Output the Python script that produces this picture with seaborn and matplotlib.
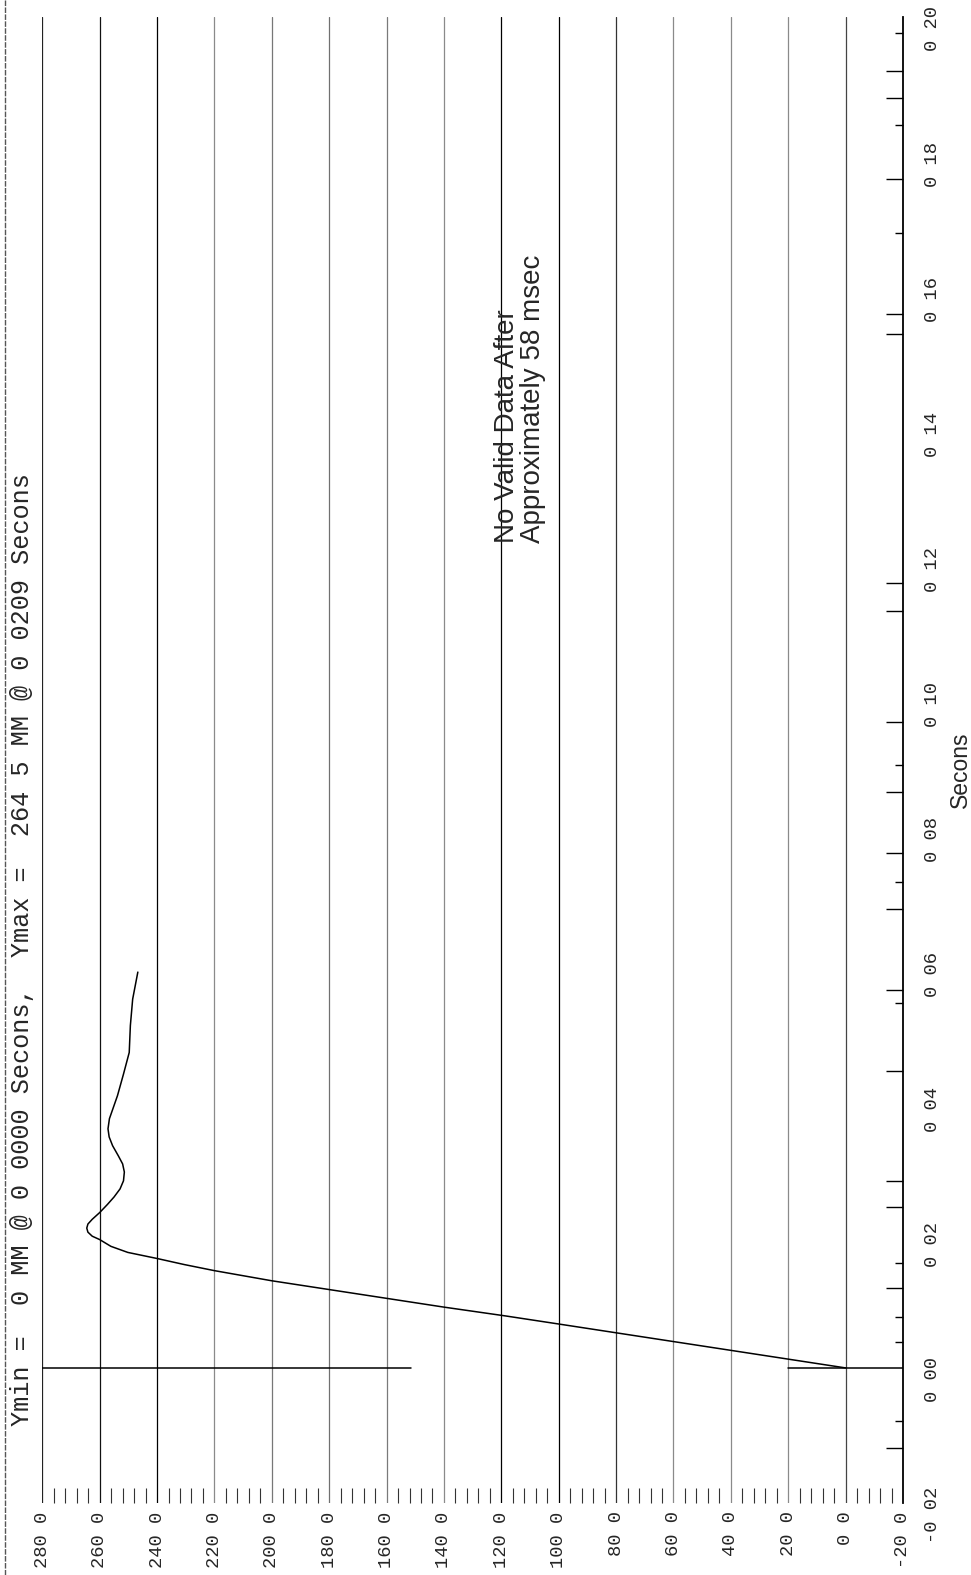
import matplotlib
matplotlib.use("Agg")
import matplotlib.pyplot as plt
import matplotlib.transforms as mtransforms
from matplotlib.lines import Line2D
import seaborn as sns

# ---------------- data ----------------
t_sec = [0.0000, 0.0013, 0.0026, 0.0039, 0.0052, 0.0065, 0.0077, 0.0090, 0.0103,
         0.0116, 0.0129, 0.0144, 0.0153, 0.0162, 0.0171, 0.0180, 0.0190, 0.0195,
         0.0201, 0.0207, 0.0213, 0.0220, 0.0230, 0.0242, 0.0253, 0.0265, 0.0277,
         0.0290, 0.0302, 0.0314, 0.0329, 0.0342, 0.0354, 0.0369, 0.0386, 0.0403,
         0.0435, 0.0467, 0.0507, 0.0546, 0.0586]
disp_mm = [0.0, 20.0, 40.0, 60.0, 80.0, 100.0, 118.6, 140.0, 160.0,
           180.0, 200.0, 220.0, 230.5, 240.0, 250.2, 256.1, 260.0, 262.6,
           264.1, 264.5, 264.1, 262.6, 260.0, 257.3, 255.0, 252.9, 251.7,
           251.4, 252.0, 253.5, 255.5, 256.7, 257.1, 256.6, 255.2, 253.8,
           251.7, 249.7, 249.3, 248.5, 246.7]

mm_grid = [280, 260, 240, 220, 200, 180, 160, 140, 120, 100, 80, 60, 40, 20, 0]
mm_ticks = [280, 260, 240, 220, 200, 180, 160, 140, 120, 100, 80, 60, 40, 20, 0, -20]
mm_ticklabels = ["280 0", "260 0", "240 0", "220 0", "200 0", "180 0", "160 0",
                 "140 0", "120 0", "100 0", "80 0", "60 0", "40 0", "20 0",
                 "0 0", "-20 0"]
mm_minor = list(range(-20, 281, 4))

time_ticks = [-0.02, 0.00, 0.02, 0.04, 0.06, 0.08, 0.10, 0.12, 0.14, 0.16, 0.18, 0.20]
time_ticklabels = ["-0 02", "0 00", "0 02", "0 04", "0 06", "0 08", "0 10",
                   "0 12", "0 14", "0 16", "0 18", "0 20"]
time_marks_long = [0.192, 0.188, 0.176, 0.156, 0.153, 0.1162, 0.1121, 0.0956,
                   0.0853, 0.0762, 0.068, 0.056, 0.044, 0.0277, 0.0238, 0.0118,
                   -0.0119]
time_marks_short = [0.1976, 0.184, 0.168, 0.0893, 0.0719, 0.054, 0.0155, 0.0076,
                    0.0039, -0.0079]

zero_spans = [(280, 151.5), (20, -20)]

header = "Ymin =  0 MM @ 0 0000 Secons,  Ymax =  264 5 MM @ 0 0209 Secons"
note = "No Valid Data After\nApproximately 58 msec"
axis_title = "Secons"

# ---------------- style ----------------
sns.set_style("white")
plt.rcParams["font.family"] = ["Liberation Mono", "DejaVu Sans"]

grid_shades = ["#222222", "#111111", "#000000", "#8a8a8a", "#777777", "#707070",
               "#7a7a7a", "#8a8a8a", "#000000", "#000000", "#333333", "#8a8a8a",
               "#8a8a8a", "#8a8a8a", "#444444"]

fig = plt.figure(figsize=(9.71, 15.75), dpi=100)
ax = fig.add_axes([0.04356, 0.04571, 0.8864, 0.9435])
ax.set_facecolor("white")

for v, c in zip(mm_grid, grid_shades):
    ax.axvline(v, color=c, lw=0.9, zorder=1)

for a, b in zero_spans:
    ax.plot([a, b], [0, 0], color="black", lw=1.1, zorder=2)

sns.lineplot(x=disp_mm, y=t_sec, sort=False, estimator=None, color="black",
             lw=1.1, ax=ax, zorder=3)

ax.set_xlim(280, -20)
ax.set_ylim(-0.02, 0.20)
ax.set_xlabel("")

for s in ["left", "top", "bottom"]:
    ax.spines[s].set_visible(False)
ax.spines["right"].set_visible(True)
ax.spines["right"].set_color("black")
ax.spines["right"].set_linewidth(1.3)

# MM axis (bottom)
ax.set_xticks(mm_ticks)
ax.set_xticklabels(mm_ticklabels, rotation=90, ha="center", va="top",
                   family="Liberation Mono", fontsize=13.5)
ax.set_xticks(mm_minor, minor=True)
ax.tick_params(axis="x", which="major", length=0, pad=6, bottom=True)
ax.tick_params(axis="x", which="minor", direction="in", length=11, width=0.8,
               color="#333333", bottom=True)

# time axis (right)
ax.yaxis.tick_right()
ax.set_yticks(time_ticks)
ax.set_yticklabels(time_ticklabels, rotation=90, va="center", ha="left",
                   family="Liberation Mono", fontsize=13.5)
ax.set_yticks(time_marks_long, minor=True)
ax.tick_params(axis="y", which="major", length=0, pad=15)
ax.tick_params(axis="y", which="minor", direction="in", length=12, width=1.0,
               color="black")
shift = mtransforms.ScaledTranslation(0, -0.12, fig.dpi_scale_trans)
for lab in ax.get_yticklabels():
    lab.set_transform(lab.get_transform() + shift)

sec = ax.secondary_yaxis("right")
sec.set_yticks(time_marks_short)
sec.set_yticklabels([])
sec.tick_params(direction="in", length=6, width=1.0, color="black")
sec.spines["right"].set_visible(False)

ax.set_ylabel(axis_title, family="Liberation Sans", fontsize=16.5, rotation=90)
ax.yaxis.set_label_position("right")
ax.yaxis.set_label_coords((950 - 42.3) / 851, (1503 - 770) / 1486)
ax.yaxis.label.set_va("center")
ax.yaxis.label.set_ha("center")

ax.text(113.4, 0.1221, note, rotation=90, ha="center", va="bottom",
        multialignment="left", family="Liberation Sans", fontsize=20,
        linespacing=1.0, zorder=4)

fig.text(22.5 / 971, 1 - 1426 / 1575, header, rotation=90, ha="center",
         va="bottom", family="Liberation Mono", fontsize=18.2)

fig.add_artist(Line2D([5 / 971, 5 / 971], [0, 1], transform=fig.transFigure,
                      color="#555555", lw=1.0, ls=(0, (4, 1))))

fig.savefig("out.png", dpi=100, facecolor="white")
